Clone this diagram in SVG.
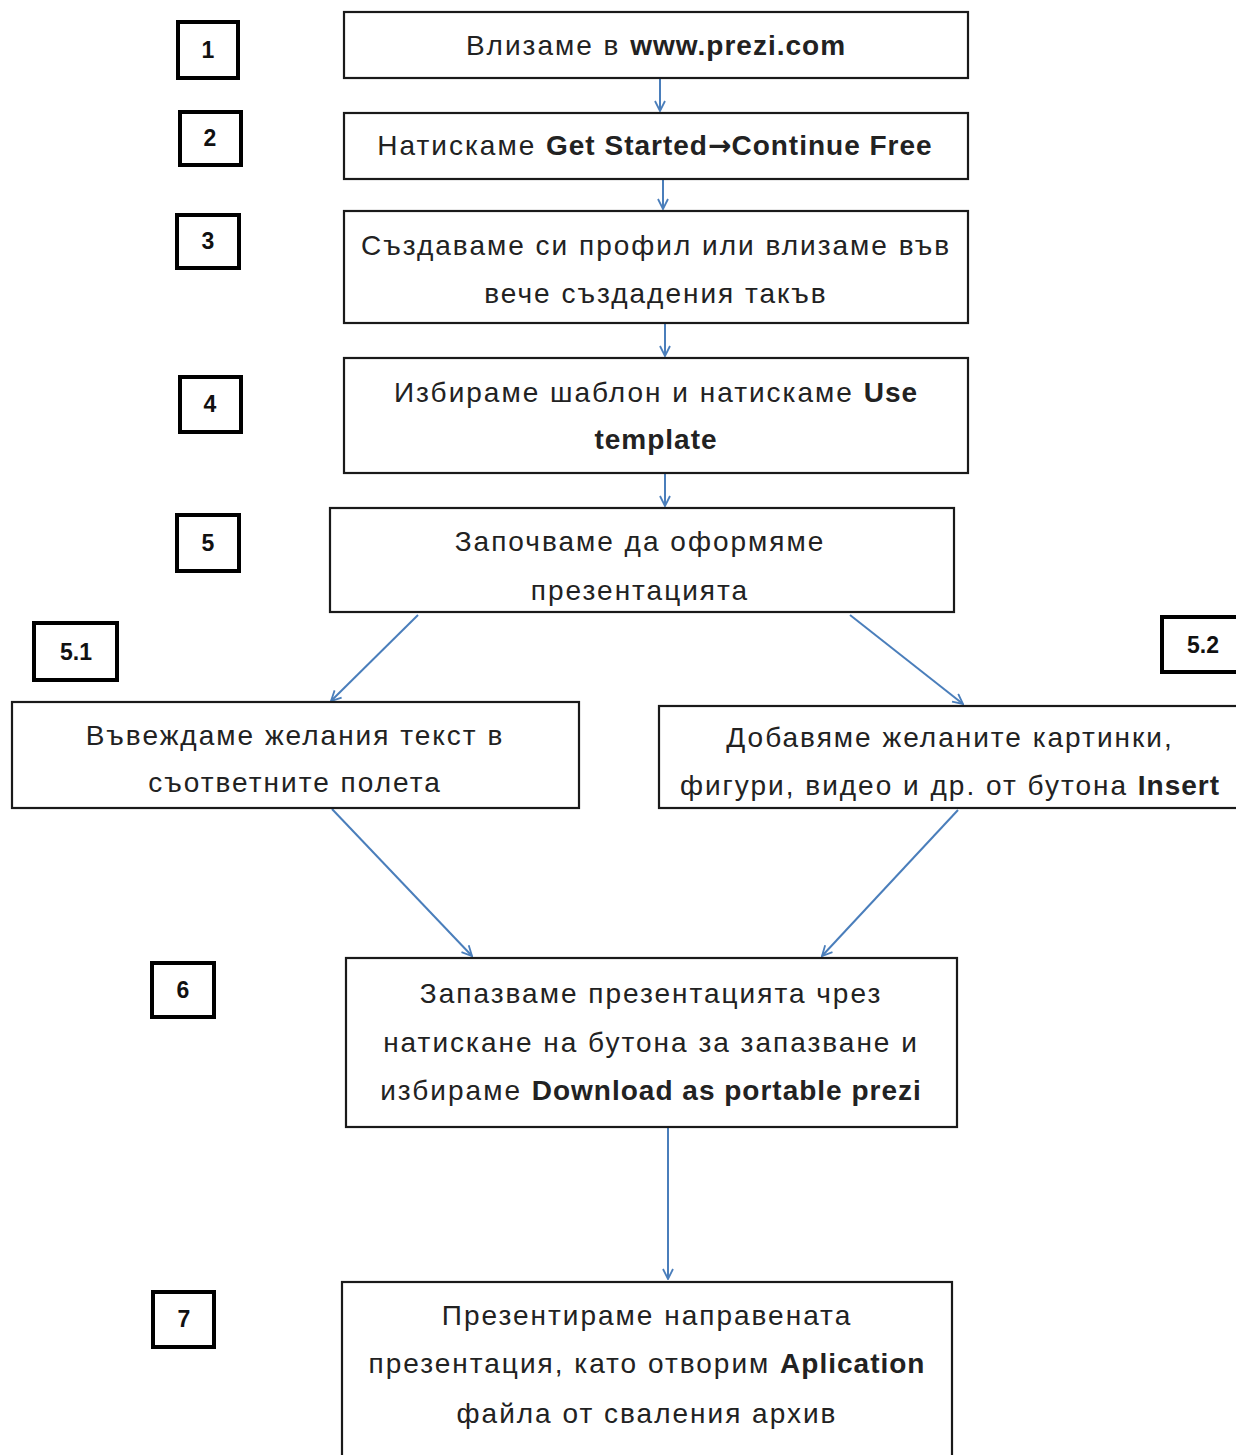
<svg xmlns="http://www.w3.org/2000/svg" width="1236" height="1455" viewBox="0 0 1236 1455">
<defs>
<marker id="ah" viewBox="0 0 12 12" refX="11" refY="6" markerWidth="12" markerHeight="12" markerUnits="userSpaceOnUse" orient="auto">
<path d="M1,1 L11,6 L1,11" fill="none" stroke="#4a7ebb" stroke-width="1.8"/>
</marker>
<style>
.box{fill:#fff;stroke:#1a1a1a;stroke-width:2.2}
.num{fill:#fff;stroke:#000;stroke-width:4}
.t{font-family:"Liberation Sans",Arial,sans-serif;font-size:28px;letter-spacing:2px;fill:#222;text-anchor:middle}
.n{font-family:"Liberation Sans",Arial,sans-serif;font-size:23px;font-weight:bold;fill:#111;text-anchor:middle}
.b{font-weight:bold;letter-spacing:1px}
.ar{font-family:"DejaVu Sans",sans-serif;font-weight:bold;letter-spacing:0}
.c{fill:none;stroke:#4a7ebb;stroke-width:2;marker-end:url(#ah)}
</style>
</defs>
<rect width="1236" height="1455" fill="#fff"/>
<g id="connectors">
<line class="c" x1="660" y1="79" x2="660" y2="111"/>
<line class="c" x1="663" y1="180" x2="663" y2="209"/>
<line class="c" x1="665" y1="324" x2="665" y2="356"/>
<line class="c" x1="665" y1="474" x2="665" y2="506"/>
<line class="c" x1="418" y1="615" x2="331" y2="701"/>
<line class="c" x1="850" y1="615" x2="963" y2="704"/>
<line class="c" x1="332" y1="809" x2="472" y2="956"/>
<line class="c" x1="958" y1="810" x2="822" y2="956"/>
<line class="c" x1="668" y1="1128" x2="668" y2="1279"/>
</g>
<g id="n1"><rect class="num" x="178" y="22" width="60" height="56"/><text class="n" x="208" y="58">1</text></g>
<g id="n2"><rect class="num" x="180" y="112" width="61" height="53"/><text class="n" x="210" y="146">2</text></g>
<g id="n3"><rect class="num" x="177" y="215" width="62" height="53"/><text class="n" x="208" y="249">3</text></g>
<g id="n4"><rect class="num" x="180" y="377" width="61" height="55"/><text class="n" x="210" y="412">4</text></g>
<g id="n5"><rect class="num" x="177" y="515" width="62" height="56"/><text class="n" x="208" y="551">5</text></g>
<g id="n51"><rect class="num" x="34" y="623" width="83" height="57"/><text class="n" x="76" y="660">5.1</text></g>
<g id="n52"><rect class="num" x="1162" y="617" width="80" height="55"/><text class="n" x="1203" y="653">5.2</text></g>
<g id="n6"><rect class="num" x="152" y="963" width="62" height="54"/><text class="n" x="183" y="998">6</text></g>
<g id="n7"><rect class="num" x="153" y="1292" width="61" height="55"/><text class="n" x="184" y="1327">7</text></g>

<g id="s1"><rect class="box" x="344" y="12" width="624" height="66"/><text class="t" x="656" y="55">Влизаме в <tspan class="b">www.prezi.com</tspan></text></g>
<g id="s2"><rect class="box" x="344" y="113" width="624" height="66"/><text class="t" x="655" y="155">Натискаме <tspan class="b">Get Started<tspan class="ar">→</tspan>Continue Free</tspan></text></g>
<g id="s3"><rect class="box" x="344" y="211" width="624" height="112"/><text class="t" x="656" y="255">Създаваме си профил или влизаме във</text><text class="t" x="656" y="303">вече създадения такъв</text></g>
<g id="s4"><rect class="box" x="344" y="358" width="624" height="115"/><text class="t" x="656" y="402">Избираме шаблон и натискаме <tspan class="b">Use</tspan></text><text class="t b" x="656" y="449">template</text></g>
<g id="s5"><rect class="box" x="330" y="508" width="624" height="104"/><text class="t" x="640" y="551">Започваме да оформяме</text><text class="t" x="640" y="600">презентацията</text></g>
<g id="s51"><rect class="box" x="12" y="702" width="567" height="106"/><text class="t" x="295" y="745">Въвеждаме желания текст в</text><text class="t" x="295" y="792">съответните полета</text></g>
<g id="s52"><rect class="box" x="659" y="706" width="590" height="102"/><text class="t" x="950" y="747">Добавяме желаните картинки,</text><text class="t" x="950" y="795">фигури, видео и др. от бутона <tspan class="b">Insert</tspan></text></g>
<g id="s6"><rect class="box" x="346" y="958" width="611" height="169"/><text class="t" x="651" y="1003">Запазваме презентацията чрез</text><text class="t" x="651" y="1052">натискане на бутона за запазване и</text><text class="t" x="651" y="1100">избираме <tspan class="b">Download as portable prezi</tspan></text></g>
<g id="s7"><rect class="box" x="342" y="1282" width="610" height="190"/><text class="t" x="647" y="1325">Презентираме направената</text><text class="t" x="647" y="1373">презентация, като отворим <tspan class="b">Aplication</tspan></text><text class="t" x="647" y="1423">файла от сваления архив</text></g>
</svg>
